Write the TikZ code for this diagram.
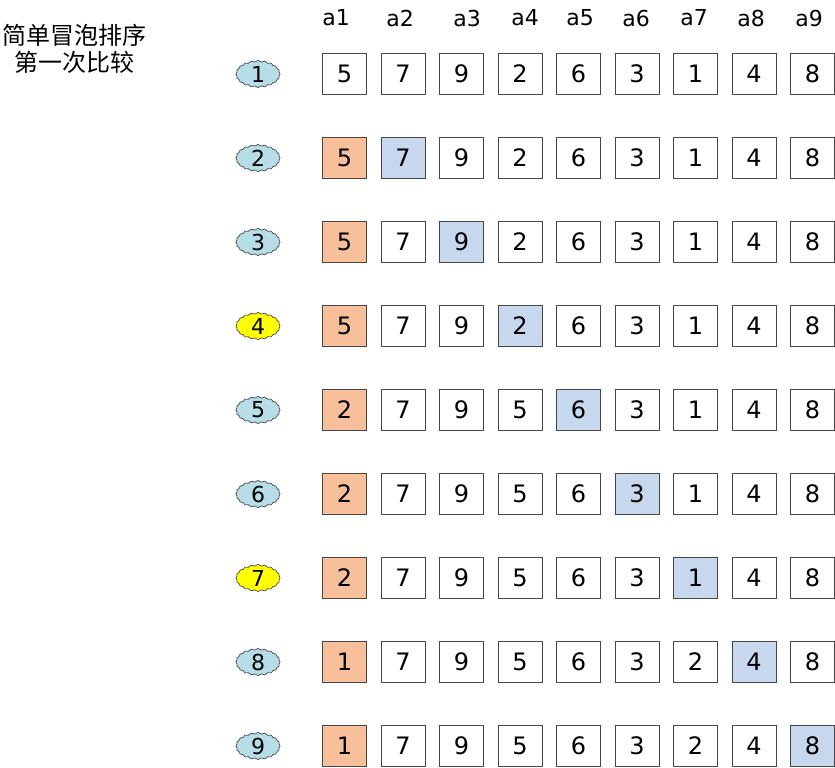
\documentclass[tikz,border=0pt]{standalone}
\usepackage{fontspec}
\setmainfont{DejaVu Sans}
\newfontfamily\cjk{Noto Sans CJK SC}
\usetikzlibrary{shapes.symbols}
\definecolor{hiorange}{RGB}{248,192,154}
\definecolor{hiblue}{RGB}{198,215,238}
\definecolor{stepblue}{RGB}{183,221,232}
\definecolor{stepyellow}{RGB}{255,255,0}
\definecolor{edgegray}{RGB}{70,70,70}
\tikzset{
  cell/.style={draw=edgegray, line width=0.9pt, fill=white, minimum width=44pt, minimum height=41pt, inner sep=0pt, font=\fontsize{24pt}{26pt}\selectfont},
  cello/.style={cell, fill=hiorange},
  cellb/.style={cell, fill=hiblue},
  stepmark/.style={cloud, cloud puffs=20, cloud puff arc=100, aspect=1.7, draw=edgegray, line width=0.7pt, fill=stepblue, minimum width=44pt, minimum height=27pt, inner sep=0pt, font=\fontsize{22pt}{24pt}\selectfont},
  stepmarky/.style={stepmark, fill=stepyellow},
  collabel/.style={font=\fontsize{22pt}{24pt}\selectfont, inner sep=0pt},
  titletext/.style={font=\cjk\fontsize{24pt}{28pt}\selectfont, align=center, inner sep=0pt}
}
\begin{document}
\begin{tikzpicture}[x=1pt, y=-1pt]
\useasboundingbox (0,0) rectangle (835,768);
\node[titletext] (title1) at (74,35) {简单冒泡排序};
\node[titletext] (title2) at (74,62) {第一次比较};
\foreach \lx [count=\i] in {336,400,467,525,580,636,694,751,809} {
  \node[collabel] (lab\i) at (\lx,18) {a\i};
}
% rows: values, orange column, blue column, marker style
\foreach \r/\vals/\o/\b/\st in {
  1/{5,7,9,2,6,3,1,4,8}/0/0/stepmark,
  2/{5,7,9,2,6,3,1,4,8}/1/2/stepmark,
  3/{5,7,9,2,6,3,1,4,8}/1/3/stepmark,
  4/{5,7,9,2,6,3,1,4,8}/1/4/stepmarky,
  5/{2,7,9,5,6,3,1,4,8}/1/5/stepmark,
  6/{2,7,9,5,6,3,1,4,8}/1/6/stepmark,
  7/{2,7,9,5,6,3,1,4,8}/1/7/stepmarky,
  8/{1,7,9,5,6,3,2,4,8}/1/8/stepmark,
  9/{1,7,9,5,6,3,2,4,8}/1/9/stepmark} {
  \pgfmathsetmacro{\yy}{74+84*(\r-1)}
  \node[\st] (s\r) at (258,\yy) {\r};
  \foreach \v [count=\c] in \vals {
    \ifnum\c=\o
      \def\sty{cello}
    \else
      \ifnum\c=\b
        \def\sty{cellb}
      \else
        \def\sty{cell}
      \fi
    \fi
    \node[\sty] (b\r-\c) at ({344.5+58.5*(\c-1)},\yy) {\v};
  }
}
\end{tikzpicture}
\end{document}
